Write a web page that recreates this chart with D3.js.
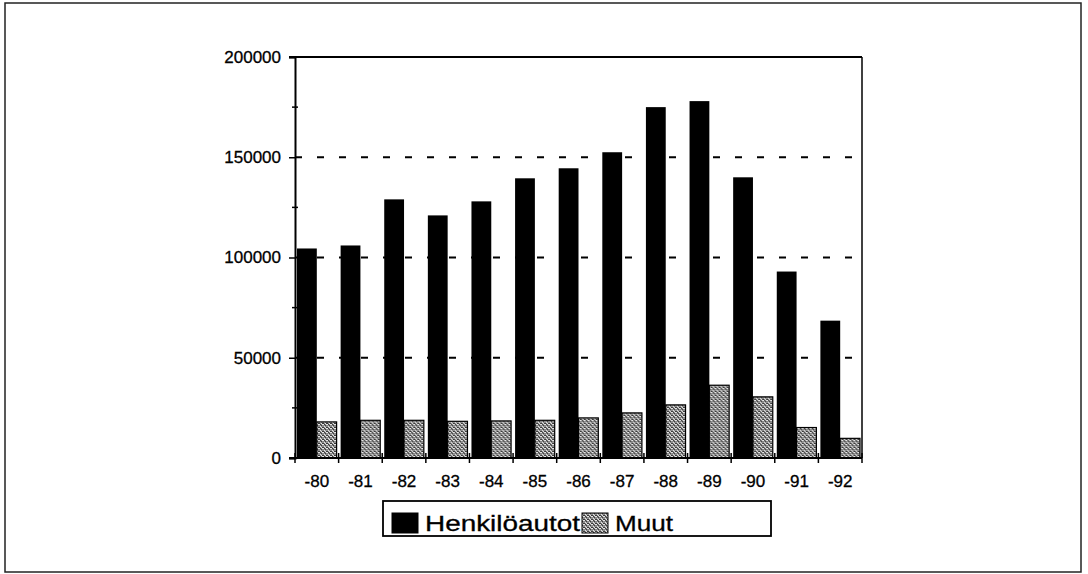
<!doctype html>
<html>
<head>
<meta charset="UTF-8">
<title>Henkilöautot / Muut</title>
<script src="https://d3js.org/d3.v7.min.js"></script>
<style>
  body { margin: 0; background: #fff; }
  svg { display: block; }
  text { font-family: "Liberation Sans", Arial, Helvetica, sans-serif; fill: #000; }
</style>
</head>
<body>
<svg width="1088" height="574"></svg>
<script>
var years = ["-80","-81","-82","-83","-84","-85","-86","-87","-88","-89","-90","-91","-92"];
var henkiloautot = [104500, 106000, 129000, 121000, 128000, 139500, 144500, 152500, 175000, 178000, 140000, 93000, 68500];
var muut = [18000, 18800, 18800, 18300, 18500, 18800, 20000, 22500, 26500, 36300, 30500, 15200, 9800];
var yTicks = [0, 50000, 100000, 150000, 200000];
var yMinor = [25000, 75000, 125000, 175000];
var seriesNames = ["Henkilöautot", "Muut"];

var svg = d3.select("svg");

// stipple pattern for "Muut"
var defs = svg.append("defs");
var pat = defs.append("pattern")
  .attr("id", "stipple")
  .attr("patternUnits", "userSpaceOnUse")
  .attr("width", 4).attr("height", 4);
pat.append("rect").attr("width", 4).attr("height", 4).attr("fill", "#8c8c8c");
[[0,0],[2,1],[1,2],[3,3],[3,0],[0,3],[2,3],[1,0]].forEach(function(p, i){
  pat.append("rect").attr("x", p[0]).attr("y", p[1]).attr("width", 1).attr("height", 1)
    .attr("fill", i % 2 ? "#3a3a3a" : "#e6e6e6");
});

// outer frame
svg.append("rect")
  .attr("x", 5).attr("y", 3).attr("width", 1076).attr("height", 569)
  .attr("fill", "none").attr("stroke", "#222").attr("stroke-width", 1.5);

var pLeft = 295, pRight = 862, pTop = 57, pBottom = 458;

var x = d3.scaleBand().domain(years).range([pLeft, pRight]);
var xs = d3.scaleBand().domain(seriesNames).range([2, x.bandwidth() - 2]);
var y = d3.scaleLinear().domain([0, 200000]).range([pBottom, pTop]);

// dashed grid
svg.append("g").selectAll("line")
  .data([50000, 100000, 150000])
  .enter().append("line")
  .attr("x1", pLeft).attr("x2", pRight)
  .attr("y1", function(d){ return y(d); })
  .attr("y2", function(d){ return y(d); })
  .attr("stroke", "#000").attr("stroke-width", 2)
  .attr("stroke-dasharray", "7,15");

// frame top and right
svg.append("line").attr("x1", pLeft - 6).attr("x2", pRight).attr("y1", y(200000)).attr("y2", y(200000))
  .attr("stroke", "#000").attr("stroke-width", 2);
svg.append("line").attr("x1", pRight).attr("x2", pRight).attr("y1", y(200000)).attr("y2", pBottom)
  .attr("stroke", "#000").attr("stroke-width", 1.5);

// bars
var groups = svg.append("g").selectAll("g")
  .data(years)
  .enter().append("g")
  .attr("transform", function(d){ return "translate(" + x(d) + ",0)"; });

groups.append("rect")
  .attr("x", xs("Henkilöautot"))
  .attr("width", xs.bandwidth())
  .attr("y", function(d, i){ return y(henkiloautot[i]); })
  .attr("height", function(d, i){ return pBottom - y(henkiloautot[i]); })
  .attr("fill", "#000");

groups.append("rect")
  .attr("x", xs("Muut"))
  .attr("width", xs.bandwidth())
  .attr("y", function(d, i){ return y(muut[i]); })
  .attr("height", function(d, i){ return pBottom - y(muut[i]); })
  .attr("fill", "url(#stipple)")
  .attr("stroke", "#000").attr("stroke-width", 1.2);

// y axis
var yAxis = d3.axisLeft(y).tickValues(yTicks).tickSize(6).tickPadding(8)
  .tickFormat(d3.format("d"));
var gy = svg.append("g").attr("transform", "translate(" + pLeft + ",0)").call(yAxis);
gy.select(".domain").attr("stroke-width", 2);
gy.selectAll(".tick line").attr("stroke-width", 1.5);
gy.selectAll("text").attr("font-size", 17).attr("font-family", "'Liberation Sans', Arial, sans-serif")
  .attr("stroke", "#000").attr("stroke-width", 0.3);
gy.selectAll(".minor").data(yMinor).enter().append("line")
  .attr("class", "minor")
  .attr("x1", -3).attr("x2", 3)
  .attr("y1", function(d){ return y(d); }).attr("y2", function(d){ return y(d); })
  .attr("stroke", "#000").attr("stroke-width", 1.5);

// x axis
var xAxis = d3.axisBottom(x).tickSize(0).tickPadding(17);
var gx = svg.append("g").attr("transform", "translate(0," + pBottom + ")").call(xAxis);
gx.select(".domain").attr("stroke-width", 2).attr("d", "M" + (pLeft - 6) + ",0H" + pRight);
gx.selectAll("text").attr("font-size", 17).attr("font-family", "'Liberation Sans', Arial, sans-serif")
  .attr("stroke", "#000").attr("stroke-width", 0.3);
gx.selectAll(".bt").data(years.concat(["end"])).enter().append("line")
  .attr("class", "bt")
  .attr("x1", function(d){ return d === "end" ? pRight : x(d); })
  .attr("x2", function(d){ return d === "end" ? pRight : x(d); })
  .attr("y1", -5).attr("y2", 5)
  .attr("stroke", "#000").attr("stroke-width", 1.5);

// legend
var lg = svg.append("g");
lg.append("rect").attr("x", 383).attr("y", 501).attr("width", 388).attr("height", 35)
  .attr("fill", "#fff").attr("stroke", "#000").attr("stroke-width", 1.8);
var legendItems = [
  {name: seriesNames[0], fill: "#000", sx: 392, tx: 425, tw: 155},
  {name: seriesNames[1], fill: "url(#stipple)", sx: 582, tx: 615, tw: 58}
];
legendItems.forEach(function(it){
  lg.append("rect").attr("x", it.sx).attr("y", 513).attr("width", 26).attr("height", 20)
    .attr("fill", it.fill).attr("stroke", "#000").attr("stroke-width", 1);
  lg.append("text").attr("x", it.tx).attr("y", 531).attr("font-size", 22)
    .attr("textLength", it.tw).attr("lengthAdjust", "spacingAndGlyphs")
    .attr("stroke", "#000").attr("stroke-width", 0.3)
    .text(it.name);
});
</script>
</body>
</html>
